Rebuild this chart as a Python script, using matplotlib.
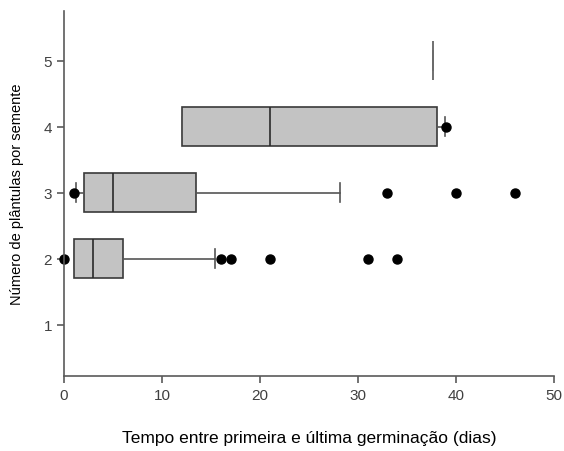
import matplotlib
matplotlib.use("Agg")
import matplotlib.pyplot as plt

plt.rcParams['font.family'] = ['Liberation Sans', 'DejaVu Sans']

# Resumo dos boxplots por número de plântulas
plantulas = [2, 3, 4, 5]
q1 = [1.0, 2.0, 12.0, 37.6]
mediana = [3.0, 5.0, 21.0, 37.6]
q3 = [6.0, 13.5, 38.0, 37.6]
whis_min = [1.0, 1.2, 12.0, 37.6]
whis_max = [15.4, 28.2, 38.9, 37.6]
outliers = [
    [0.0, 16.0, 17.0, 21.0, 31.0, 34.0],
    [1.0, 33.0, 40.0, 46.0],
    [39.0],
    [],
]
y_ticks = [1, 2, 3, 4, 5]
x_ticks = [0, 10, 20, 30, 40, 50]

stats = []
for i in range(len(plantulas)):
    stats.append({
        'med': mediana[i], 'q1': q1[i], 'q3': q3[i],
        'whislo': whis_min[i], 'whishi': whis_max[i],
        'fliers': outliers[i],
    })

fig = plt.figure(figsize=(5.64, 4.52), dpi=100)
ax = fig.add_axes([0.1135, 0.166, 0.869, 0.807])

cinza = '#555555'
bp = ax.bxp(stats, positions=plantulas, vert=False, widths=0.6,
            patch_artist=True, capwidths=0.28, manage_ticks=False,
            boxprops=dict(facecolor='#c3c3c3', edgecolor='#3a3a3a', linewidth=1.2),
            medianprops=dict(color='#2a2a2a', linewidth=1.2),
            whiskerprops=dict(color=cinza, linewidth=1.2),
            capprops=dict(color=cinza, linewidth=1.2),
            flierprops=dict(marker='o', markerfacecolor='black', markeredgecolor='black',
                            markersize=6.5))

for f in bp['fliers']:
    f.set_clip_on(False)
# caixa degenerada (todos os valores iguais) aparece só como traço cinza
bp['medians'][3].set_color('#707070')
bp['boxes'][3].set_edgecolor('#707070')

ax.set_xlim(0, 50)
ax.set_ylim(0.22, 5.75)
ax.set_xticks(x_ticks)
ax.set_yticks(y_ticks)

for s in ['top', 'right']:
    ax.spines[s].set_visible(False)
for s in ['left', 'bottom']:
    ax.spines[s].set_color('#5a5a5a')
    ax.spines[s].set_linewidth(1.2)
ax.tick_params(colors='#5a5a5a', labelcolor='#404040', labelsize=11, length=5, width=1.2)

ax.set_xlabel('Tempo entre primeira e última germinação (dias)', fontsize=12.5,
              labelpad=20, color='black')
ax.set_ylabel('Número de plântulas por semente', fontsize=10.5, labelpad=14, color='black')

fig.savefig('out.png', dpi=100)
